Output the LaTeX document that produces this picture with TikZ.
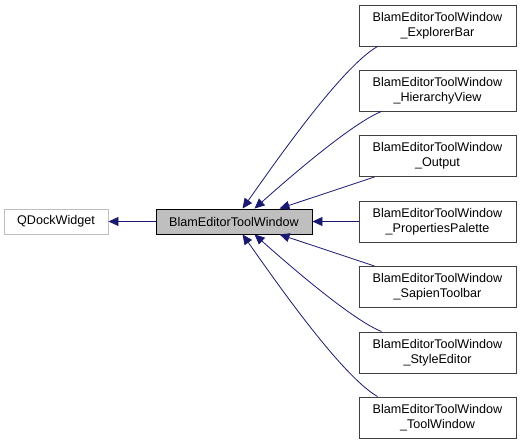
\documentclass[tikz,border=0pt]{standalone}
\usepackage{fontspec}
\setmainfont{Liberation Sans}
\usetikzlibrary{arrows.meta}
\definecolor{edgeblue}{HTML}{191970}
\definecolor{boxgray}{HTML}{BFBFBF}
\definecolor{boxline}{HTML}{404040}
\begin{document}
\begin{tikzpicture}[x=1bp,y=-1bp,
  every node/.style={font=\fontsize{12.6bp}{15bp}\selectfont, inner sep=0pt, align=center},
  classbox/.style={draw=boxline, line width=0.9bp, minimum width=157bp, minimum height=41bp},
  mainbox/.style={draw=black, fill=boxgray, line width=0.9bp, minimum width=156bp, minimum height=25bp},
  extbox/.style={draw=boxgray, line width=0.9bp, minimum width=104bp, minimum height=25bp},
  inh/.style={draw=edgeblue, line width=0.8bp, -{Triangle[length=10bp,width=9bp]}}
]
\useasboundingbox (0,0) rectangle (521,444);
\node[extbox] (q) at (56,221.5) {QDockWidget};
\node[mainbox] (c) at (234,221.5) {BlamEditorToolWindow};
\node[classbox] (b1) at (437.5,25.5) {BlamEditorToolWindow\\\_ExplorerBar};
\node[classbox] (b2) at (437.5,90.5) {BlamEditorToolWindow\\\_HierarchyView};
\node[classbox] (b3) at (437.5,156) {BlamEditorToolWindow\\\_Output};
\node[classbox] (b4) at (437.5,221.5) {BlamEditorToolWindow\\\_PropertiesPalette};
\node[classbox] (b5) at (437.5,287) {BlamEditorToolWindow\\\_SapienToolbar};
\node[classbox] (b6) at (437.5,352.5) {BlamEditorToolWindow\\\_StyleEditor};
\node[classbox] (b7) at (437.5,417.5) {BlamEditorToolWindow\\\_ToolWindow};
\draw[inh] (c.west) -- (q.east);
\draw[inh] ([xshift=19bp]b1.south west) .. controls (340,68) and (270,170) .. ([xshift=87bp]c.north west);
\draw[inh] ([xshift=23bp]b2.south west) .. controls (355,122) and (300,168) .. ([xshift=99bp]c.north west);
\draw[inh] ([xshift=16bp]b3.south west) -- ([xshift=124bp]c.north west);
\draw[inh] (b4.west) -- (c.east);
\draw[inh] ([xshift=16bp]b5.north west) -- ([xshift=124bp]c.south west);
\draw[inh] ([xshift=23bp]b6.north west) .. controls (355,321) and (300,275) .. ([xshift=99bp]c.south west);
\draw[inh] ([xshift=19bp]b7.north west) .. controls (340,375) and (270,273) .. ([xshift=87bp]c.south west);
\end{tikzpicture}
\end{document}
